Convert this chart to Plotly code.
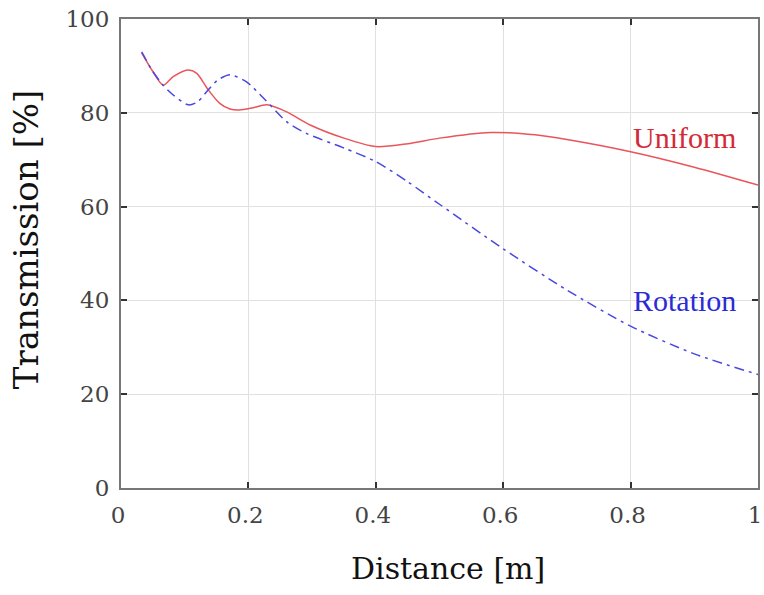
import plotly.graph_objects as go

# Uniform (red, solid)
uni_x = [0.0325, 0.05, 0.066, 0.082, 0.105, 0.119, 0.137, 0.155, 0.171, 0.186, 0.205, 0.229, 0.26, 0.297, 0.35, 0.4, 0.45, 0.5, 0.58, 0.65, 0.7, 0.8, 0.9, 1.0]
uni_y = [92.8, 88.8, 85.9, 87.7, 89.1, 88.4, 84.9, 82.0, 80.8, 80.6, 81.0, 81.7, 80.2, 77.4, 74.6, 72.8, 73.4, 74.6, 75.8, 75.3, 74.3, 71.7, 68.4, 64.6]

# Rotation (blue, dash-dot)
rot_x = [0.0325, 0.05, 0.066, 0.082, 0.1055, 0.12, 0.137, 0.152, 0.171, 0.197, 0.224, 0.26, 0.291, 0.35, 0.4, 0.45, 0.5, 0.6, 0.7, 0.8, 0.9, 1.0]
rot_y = [93.0, 88.8, 85.9, 83.8, 81.7, 82.3, 84.9, 87.0, 88.1, 86.6, 83.1, 78.1, 75.6, 72.5, 69.6, 65.3, 60.5, 51.0, 42.2, 34.5, 28.6, 24.2]

x_ticks = [0, 0.2, 0.4, 0.6, 0.8, 1]
x_tick_text = ["0", "0.2", "0.4", "0.6", "0.8", "1"]
y_ticks = [0, 20, 40, 60, 80, 100]

SERIF = "DejaVu Serif, serif"
TIMES = "Liberation Serif, Times New Roman, serif"

fig = go.Figure()
fig.add_trace(go.Scatter(x=uni_x, y=uni_y, mode="lines", name="Uniform",
                         line=dict(color="#e8555a", width=1.5, shape="spline", smoothing=0.7)))
fig.add_trace(go.Scatter(x=rot_x, y=rot_y, mode="lines", name="Rotation",
                         line=dict(color="#4848e0", width=1.5, dash="10px,5px,3px,5px",
                                   shape="spline", smoothing=0.7)))

fig.add_annotation(x=0.885, y=74.8, text="Uniform", showarrow=False,
                   font=dict(family=TIMES, size=30, color="#d42a35"))
fig.add_annotation(x=0.885, y=39.9, text="Rotation", showarrow=False,
                   font=dict(family=TIMES, size=30, color="#2b2bd6"))

# axis titles
fig.add_annotation(xref="paper", yref="paper", x=0.514, y=-0.1706, text="Distance [m]",
                   showarrow=False, xanchor="center", yanchor="middle",
                   font=dict(family=SERIF, size=30, color="#111111"))
fig.add_annotation(xref="paper", yref="paper", x=-0.148, y=0.53, text="Transmission [%]",
                   showarrow=False, xanchor="center", yanchor="middle", textangle=-90,
                   font=dict(family=SERIF, size=34, color="#111111"))

axis_common = dict(showline=True, linecolor="#777777", linewidth=2, mirror="ticks",
                   ticks="inside", ticklen=6, tickcolor="#333333", tickwidth=2,
                   showgrid=True, gridcolor="#e0e0e0", gridwidth=1, zeroline=False,
                   automargin=False, ticklabelstandoff=5, ticklabeloverflow="allow",
                   tickfont=dict(family=SERIF, size=23, color="#444444"))

fig.update_xaxes(range=[0, 1], tickvals=x_ticks, ticktext=x_tick_text, ticklabelshift=-3,
                 **axis_common)
fig.update_yaxes(range=[0, 100], tickvals=y_ticks, **axis_common)

fig.update_layout(width=764, height=595, showlegend=False,
                  plot_bgcolor="white", paper_bgcolor="white",
                  margin=dict(l=121, r=6, t=19, b=107))

fig.write_html("out.html", config={"displayModeBar": False},
               post_script="document.body.style.margin='0';document.body.style.overflow='hidden';")
